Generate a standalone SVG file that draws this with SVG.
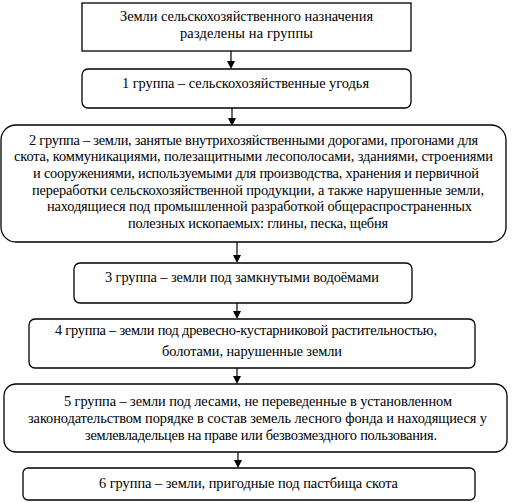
<svg xmlns="http://www.w3.org/2000/svg" width="520" height="502" viewBox="0 0 520 502">
<rect width="520" height="502" fill="#fff"/>
<g id="connectors" stroke="#000" stroke-width="1.2">
<line x1="231" y1="51" x2="231" y2="62"/><polygon points="227,61 235,61 231,69" fill="#000" stroke="none"/>
<line x1="232" y1="108" x2="232" y2="119"/><polygon points="228,118 236,118 232,126" fill="#000" stroke="none"/>
<line x1="237" y1="242" x2="237" y2="256"/><polygon points="233,255 241,255 237,263" fill="#000" stroke="none"/>
<line x1="237" y1="303" x2="237" y2="312"/><polygon points="233,311 241,311 237,319" fill="#000" stroke="none"/>
<line x1="237" y1="368" x2="237" y2="377"/><polygon points="233,376 241,376 237,384" fill="#000" stroke="none"/>
<line x1="238" y1="452" x2="238" y2="461"/><polygon points="234,460 242,460 238,468" fill="#000" stroke="none"/>
</g>
<g id="n0">
<rect fill="#fff" stroke="#000" stroke-width="1.3" x="82" y="3" width="329" height="48"/>
<text font-family="'Liberation Serif', 'Times New Roman', serif" font-size="14.4" x="120" y="21" textLength="253">Земли сельскохозяйственного назначения</text>
<text font-family="'Liberation Serif', 'Times New Roman', serif" font-size="14.4" x="180" y="38" textLength="133">разделены на группы</text>
</g>
<g id="n1">
<rect fill="#fff" stroke="#000" stroke-width="1.3" x="82" y="69" width="329" height="39" rx="6"/>
<text font-family="'Liberation Serif', 'Times New Roman', serif" font-size="14.4" x="122" y="88" textLength="247">1 группа – сельскохозяйственные угодья</text>
</g>
<g id="n2">
<rect fill="#fff" stroke="#000" stroke-width="1.3" x="1" y="125" width="505" height="117" rx="15"/>
<text font-family="'Liberation Serif', 'Times New Roman', serif" font-size="14.4" x="29" y="145" textLength="449">2 группа – земли, занятые внутрихозяйственными дорогами, прогонами для</text>
<text font-family="'Liberation Serif', 'Times New Roman', serif" font-size="14.4" x="14" y="161" textLength="479">скота, коммуникациями, полезащитными лесополосами, зданиями, строениями</text>
<text font-family="'Liberation Serif', 'Times New Roman', serif" font-size="14.4" x="33" y="178" textLength="446">и сооружениями, используемыми для производства, хранения и первичной</text>
<text font-family="'Liberation Serif', 'Times New Roman', serif" font-size="14.4" x="32" y="195" textLength="452">переработки сельскохозяйственной продукции, а также нарушенные земли,</text>
<text font-family="'Liberation Serif', 'Times New Roman', serif" font-size="14.4" x="47" y="211" textLength="425">находящиеся под промышленной разработкой общераспространенных</text>
<text font-family="'Liberation Serif', 'Times New Roman', serif" font-size="14.4" x="128" y="228" textLength="260">полезных ископаемых: глины, песка, щебня</text>
</g>
<g id="n3">
<rect fill="#fff" stroke="#000" stroke-width="1.3" x="74" y="263" width="338" height="40" rx="6"/>
<text font-family="'Liberation Serif', 'Times New Roman', serif" font-size="14.4" x="105" y="282" textLength="274">3 группа – земли под замкнутыми водоёмами</text>
</g>
<g id="n4">
<rect fill="#fff" stroke="#000" stroke-width="1.3" x="29" y="319" width="446" height="49" rx="6"/>
<text font-family="'Liberation Serif', 'Times New Roman', serif" font-size="14.4" x="55" y="335" textLength="382">4 группа – земли под древесно-кустарниковой растительностью,</text>
<text font-family="'Liberation Serif', 'Times New Roman', serif" font-size="14.4" x="162" y="356" textLength="180">болотами, нарушенные земли</text>
</g>
<g id="n5">
<rect fill="#fff" stroke="#000" stroke-width="1.3" x="4" y="384" width="503" height="68" rx="12"/>
<text font-family="'Liberation Serif', 'Times New Roman', serif" font-size="14.4" x="64" y="406" textLength="388">5 группа –  земли под лесами, не переведенные в установленном</text>
<text font-family="'Liberation Serif', 'Times New Roman', serif" font-size="14.4" x="28" y="423" textLength="459">законодательством порядке в состав земель лесного фонда и находящиеся у</text>
<text font-family="'Liberation Serif', 'Times New Roman', serif" font-size="14.4" x="85" y="440" textLength="352">землевладельцев на праве или безвозмездного пользования.</text>
</g>
<g id="n6">
<rect fill="#fff" stroke="#000" stroke-width="1.3" x="23" y="468" width="452" height="32" rx="5"/>
<text font-family="'Liberation Serif', 'Times New Roman', serif" font-size="14.4" x="99" y="488" textLength="299">6 группа – земли, пригодные под пастбища скота</text>
</g>
</svg>
